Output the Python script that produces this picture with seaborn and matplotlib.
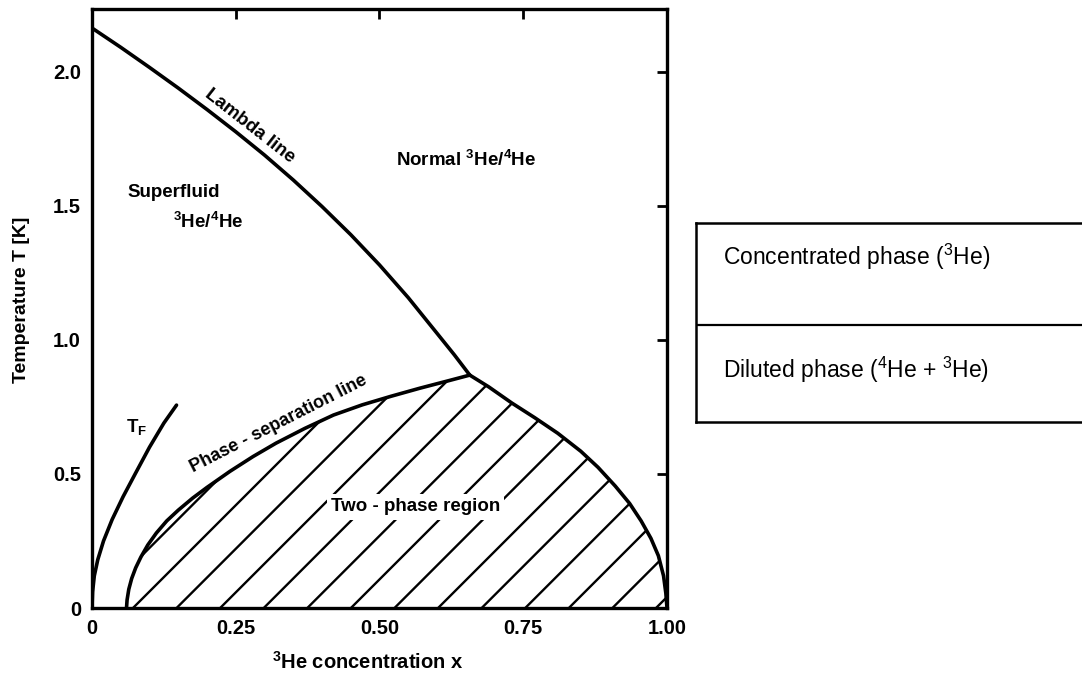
import numpy as np
import matplotlib
matplotlib.use('Agg')
import matplotlib.pyplot as plt
import seaborn as sns

# 3He-4He phase diagram
lambda_x = [0, 0.05, 0.1, 0.15, 0.2, 0.25, 0.3, 0.35, 0.4, 0.45, 0.5, 0.55, 0.6, 0.63, 0.657]
lambda_T = [2.164, 2.092, 2.017, 1.94, 1.86, 1.777, 1.69, 1.597, 1.498, 1.393, 1.28, 1.158, 1.025, 0.945, 0.869]

sep_left_x = [0.060, 0.061, 0.064, 0.069, 0.076, 0.085, 0.097, 0.112, 0.13, 0.15, 0.175, 0.2,
              0.24, 0.28, 0.32, 0.37, 0.42, 0.47, 0.52, 0.57, 0.62, 0.657]
sep_left_T = [0, 0.03, 0.07, 0.11, 0.15, 0.19, 0.235, 0.28, 0.325, 0.365, 0.41, 0.45,
              0.51, 0.565, 0.615, 0.67, 0.72, 0.758, 0.79, 0.82, 0.848, 0.869]

sep_right_x = [0.657, 0.69, 0.73, 0.77, 0.81, 0.85, 0.88, 0.91, 0.935, 0.955, 0.972, 0.985, 0.994, 0.998, 1.0]
sep_right_T = [0.869, 0.825, 0.765, 0.71, 0.652, 0.585, 0.525, 0.455, 0.39, 0.325, 0.26, 0.195, 0.12, 0.055, 0]

tf_x = [0, 0.001, 0.004, 0.01, 0.02, 0.035, 0.054, 0.075, 0.1, 0.125, 0.147]
tf_T = [0, 0.06, 0.12, 0.18, 0.25, 0.33, 0.415, 0.5, 0.6, 0.69, 0.757]

x_ticks = [0, 0.25, 0.5, 0.75, 1.0]
x_ticklabels = ['0', '0.25', '0.50', '0.75', '1.00']
y_ticks = [0, 0.5, 1.0, 1.5, 2.0]
y_ticklabels = ['0', '0.5', '1.0', '1.5', '2.0']

sns.set_theme(style='white')
plt.rcParams['font.family'] = ['Liberation Sans', 'DejaVu Sans']
plt.rcParams['mathtext.default'] = 'regular'

fig = plt.figure(figsize=(10.82, 6.83), dpi=100)
ax = fig.add_axes([92/1082, 75/683, 575/1082, 599/683])
ax.set_xlim(0, 1.0)
ax.set_ylim(0, 2.235)

lw = 2.6
for xs, ts in [(lambda_x, lambda_T), (sep_left_x, sep_left_T),
               (sep_right_x, sep_right_T), (tf_x, tf_T)]:
    sns.lineplot(x=xs, y=ts, sort=False, estimator=None, color='black',
                 linewidth=lw, ax=ax, zorder=3)

# two-phase region, hatched with 45 degree lines
poly_x = sep_left_x + sep_right_x[1:]
poly_T = sep_left_T + sep_right_T[1:]
region = ax.fill(poly_x, poly_T, facecolor='none', edgecolor='none')[0]
slope = 575 / 268  # 45 degrees on screen
for x0 in np.arange(0.0713 - 0.0758, 1.0, 0.0758):
    ln, = ax.plot([x0, x0 + 1.0 / slope], [0, 1.0], color='black', lw=1.7, zorder=1)
    ln.set_clip_path(region)

he = '$^{3}$He/$^{4}$He'
bold = dict(fontweight='bold', fontsize=13.5, color='black', ha='center', va='center')
ax.text(0.275, 1.80, 'Lambda line', rotation=-38, **bold)
ax.text(0.650, 1.672, 'Normal ' + he, **bold)
ax.text(0.143, 1.552, 'Superfluid', **bold)
ax.text(0.202, 1.44, he, **bold)
ax.text(0.077, 0.675, 'T$_{F}$', **bold)
ax.text(0.325, 0.688, 'Phase - separation line', rotation=27, fontsize=13,
        **{k: v for k, v in bold.items() if k != 'fontsize'})
ax.text(0.563, 0.377, 'Two - phase region', zorder=4,
        bbox=dict(facecolor='white', edgecolor='none', pad=3), **bold)

ax.set_xticks(x_ticks)
ax.set_xticklabels(x_ticklabels)
ax.set_yticks(y_ticks)
ax.set_yticklabels(y_ticklabels)
ax.tick_params(direction='in', top=True, right=True, length=7, width=2,
               labelsize=14.5, color='black', labelcolor='black')
ax.tick_params(axis='x', pad=8)
ax.tick_params(axis='y', pad=8)
for lab in ax.get_xticklabels() + ax.get_yticklabels():
    lab.set_fontweight('bold')
for sp in ax.spines.values():
    sp.set_linewidth(2.4)
    sp.set_color('black')

ax.set_ylabel('Temperature T [K]', fontsize=14, fontweight='bold', color='black')
ax.yaxis.set_label_coords(-0.108, 0.514)
ax.set_xlabel('$^{3}$He concentration x', fontsize=14.5, fontweight='bold', color='black')
ax.xaxis.set_label_coords(0.48, -0.072)

# box on the right with the two phases
box = fig.add_axes([696/1082, 261/683, 0.37, 199/683])
box.set_xlim(0, 1)
box.set_ylim(0, 1)
box.set_xticks([])
box.set_yticks([])
for sp in box.spines.values():
    sp.set_linewidth(1.8)
    sp.set_color('black')
box.axhline(0.487, color='black', lw=1.6)
box.text(0.0675, 0.829, 'Concentrated phase ($^{3}$He)', fontsize=16.5, va='center', color='black')
box.text(0.0675, 0.261, 'Diluted phase ($^{4}$He + $^{3}$He)', fontsize=16.5, va='center', color='black')

fig.savefig('out.png', dpi=100)
